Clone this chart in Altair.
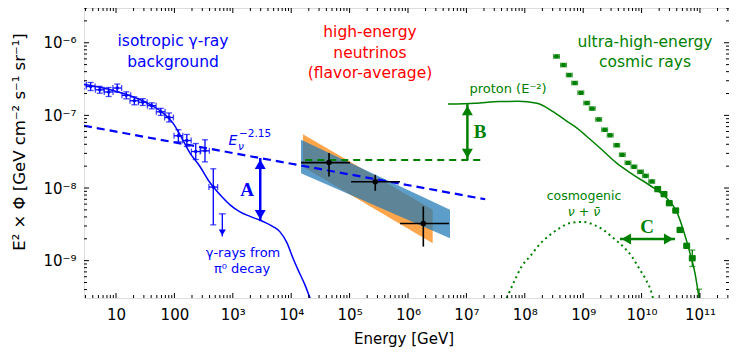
import altair as alt
import pandas as pd

# ---------------- data ----------------
# Fermi isotropic gamma-ray background: energy [GeV], E^2*Phi and its error band
igrb_E = [2.62, 3.68, 5.26, 7.48, 10.5, 15.0, 20.6, 28.7, 40.9, 58.3, 80.9, 117, 163, 232, 334, 463]
igrb_F = [2.64e-7, 2.50e-7, 2.25e-7, 2.10e-7, 2.38e-7, 1.89e-7, 1.59e-7, 1.52e-7, 1.36e-7,
          1.12e-7, 9.36e-8, 5.24e-8, 4.51e-8, 3.18e-8, 3.25e-8, 1.03e-8]
igrb_lo = [2.32e-7, 2.20e-7, 2.02e-7, 1.82e-7, 2.09e-7, 1.69e-7, 1.40e-7, 1.37e-7, 1.23e-7,
           1.00e-7, 8.12e-8, 4.33e-8, 3.73e-8, 2.47e-8, 2.29e-8, 3.11e-9]
igrb_hi = [3.00e-7, 2.84e-7, 2.51e-7, 2.42e-7, 2.70e-7, 2.11e-7, 1.80e-7, 1.70e-7, 1.49e-7,
           1.25e-7, 1.08e-7, 6.34e-8, 5.46e-8, 4.10e-8, 4.61e-8, 1.84e-8]
IGRB_HALF_BIN_DEX = 0.075
igrb_ul_E = [661]
igrb_ul_F = [4.41e-9]
igrb_ul_tip = [2.15e-9]

# gamma-ray model curve (pi0 decay)
gam_E = [2.83, 8.89, 17.4, 34.0, 63.8, 94.6, 125, 185, 274, 376, 464, 653, 895, 1328, 1971,
         3289, 4880, 6430, 8470, 1.07e4, 1.31e4, 1.72e4, 2.10e4]
gam_F = [2.68e-7, 2.20e-7, 1.86e-7, 1.48e-7, 1.08e-7, 7.84e-8, 5.41e-8, 3.03e-8, 1.98e-8,
         1.30e-8, 1.03e-8, 7.56e-9, 5.87e-9, 4.70e-9, 4.07e-9, 3.46e-9, 2.95e-9, 2.49e-9,
         1.76e-9, 1.09e-9, 7.47e-10, 4.64e-10, 3.04e-10]

# E^-2.15 neutrino extrapolation
pl_E = [2.83, 2.1e7]
pl_F = [7.2e-8, 7.0e-9]

# high-energy neutrino bands (orange / blue)
orange_E = [1.59e4, 2.65e6]
orange_lo = [1.96e-8, 1.74e-9]
orange_hi = [5.52e-8, 5.01e-9]
blue_E = [1.47e4, 5.24e6]
blue_lo = [1.60e-8, 2.04e-9]
blue_hi = [4.61e-8, 5.01e-9]

# neutrino data points
nu_E = [4.44e4, 2.75e5, 1.83e6]
nu_F = [2.24e-8, 1.22e-8, 3.24e-9]
nu_Elo = [1.47e4, 1.06e5, 7.3e5]
nu_Ehi = [1.02e5, 7.3e5, 5.04e6]
nu_Flo = [1.44e-8, 9.15e-9, 1.56e-9]
nu_Fhi = [3.03e-8, 1.52e-8, 5.56e-9]

# green dashed level
gd_E = [1.74e4, 1.93e7]
gd_F = [2.44e-8, 2.44e-8]

# proton (E^-2) curve
pr_E = [4.84e6, 1.40e7, 3.76e7, 7.65e7, 1.62e8, 3.04e8, 5.28e8, 7.84e8, 1.31e9, 1.94e9,
        3.75e9, 7.21e9, 1.59e10, 2.69e10, 3.99e10, 5.18e10, 6.74e10, 8.21e10, 9.35e10, 9.62e10]
pr_F = [1.43e-7, 1.47e-7, 1.55e-7, 1.56e-7, 1.47e-7, 1.13e-7, 8.30e-8, 6.69e-8, 4.69e-8,
        3.55e-8, 2.20e-8, 1.52e-8, 1.01e-8, 7.26e-9, 4.74e-9, 2.65e-9, 1.27e-9, 6.73e-10,
        3.57e-10, 3.08e-10]

# UHECR data
cr_E = [3.49e8, 4.60e8, 5.78e8, 7.14e8, 9.10e8, 1.15e9, 1.43e9, 1.84e9, 2.33e9, 2.90e9,
        3.75e9, 4.68e9, 5.85e9, 7.41e9, 9.57e9, 1.17e10, 1.49e10, 1.89e10, 2.42e10, 2.98e10,
        3.84e10, 4.55e10, 5.92e10, 7.38e10]
cr_F = [6.48e-7, 4.93e-7, 3.59e-7, 2.79e-7, 2.05e-7, 1.48e-7, 1.24e-7, 8.79e-8, 6.34e-8,
        5.32e-8, 3.88e-8, 2.87e-8, 2.22e-8, 1.96e-8, 1.67e-8, 1.47e-8, 1.23e-8, 9.66e-9,
        8.24e-9, 6.19e-9, 4.90e-9, 2.65e-9, 1.60e-9, 1.08e-9]
cr_big = [False] * 17 + [True] * 7
CR_HALF_BIN_DEX = 0.05
cr_err_E = [7.38e10]
cr_err_lo = [8.3e-10]
cr_err_hi = [1.40e-9]
cr_last_E = [9.62e10]
cr_last_hi = [4.05e-10]
cr_last_lo = [2.0e-10]

# cosmogenic neutrinos
cg_E = [4.90e7, 6.79e7, 8.95e7, 1.23e8, 1.82e8, 2.70e8, 4.01e8, 5.94e8, 1.00e9, 1.59e9,
        2.21e9, 3.24e9, 4.86e9, 6.85e9, 9.40e9, 1.19e10, 1.49e10, 1.57e10]
cg_F = [3.04e-10, 5.44e-10, 8.48e-10, 1.14e-9, 1.70e-9, 2.26e-9, 2.83e-9, 3.29e-9, 3.42e-9,
        3.06e-9, 2.65e-9, 2.06e-9, 1.56e-9, 1.13e-9, 7.46e-10, 5.44e-10, 3.56e-10, 3.04e-10]

# annotation arrows
arrA_E, arrA_top, arrA_bot = [2950], [2.59e-8], [3.5e-9]
arrB_E, arrB_top, arrB_bot = [1.04e7], [1.43e-7], [2.44e-8]
arrC_F, arrC_left, arrC_right = [1.98e-9], [4.27e9], [3.73e10]

# ---------------- chart setup ----------------
W, H = 645, 290
X_DOMAIN = [2.83, 3.14e11]
Y_DOMAIN = [3.06e-10, 3.01e-6]
FONT = "DejaVu Sans"
BLUE, RED, GREEN = "#0000ff", "#ff0000", "#008000"

x_major = [10.0 ** d for d in range(1, 12)]
y_major = [1e-9, 1e-8, 1e-7, 1e-6]
x_minor = [k * 10.0 ** d for d in range(0, 12) for k in range(2, 10)
           if X_DOMAIN[0] <= k * 10.0 ** d <= X_DOMAIN[1]]
y_minor = [k * 10.0 ** d for d in range(-10, -5) for k in range(2, 10)
           if Y_DOMAIN[0] <= k * 10.0 ** d <= Y_DOMAIN[1]]

xs = alt.Scale(type="log", domain=X_DOMAIN, nice=False)
ys = alt.Scale(type="log", domain=Y_DOMAIN, nice=False)
x_lab = "['','10','100','10³','10⁴','10⁵','10⁶','10⁷','10⁸','10⁹','10¹⁰','10¹¹'][round(log(datum.value)/LN10)]"
y_lab = "['','','','','','','10⁻⁶','10⁻⁷','10⁻⁸','10⁻⁹','10⁻¹⁰'][-round(log(datum.value)/LN10)]"
xax = alt.Axis(values=x_major, labelExpr=x_lab, title=None, ticks=False, tickSize=0,
               domain=False, grid=False, labelFont=FONT, labelFontSize=15, labelPadding=9,
               labelColor="black", labelFlush=False, labelOverlap=False)
yax = alt.Axis(values=y_major, labelExpr=y_lab, title=None, ticks=False, tickSize=0,
               domain=False, grid=False, labelFont=FONT, labelFontSize=15, labelPadding=8,
               labelColor="black", labelFlush=False, labelOverlap=False)


def X(f):
    return alt.X(f, type="quantitative", scale=xs, axis=xax)


def Y(f):
    return alt.Y(f, type="quantitative", scale=ys, axis=yax)


def df(**cols):
    return pd.DataFrame(cols)


layers = []

# neutrino bands
layers.append(alt.Chart(df(E=orange_E, lo=orange_lo, hi=orange_hi)).mark_area(
    color="#ff8c1a", opacity=0.78, clip=True).encode(x=X("E"), y=Y("lo"), y2="hi"))
layers.append(alt.Chart(df(E=blue_E, lo=blue_lo, hi=blue_hi)).mark_area(
    color="#1f77b4", opacity=0.72, clip=True).encode(x=X("E"), y=Y("lo"), y2="hi"))

# lines
layers.append(alt.Chart(df(E=pl_E, F=pl_F)).mark_line(
    color=BLUE, strokeWidth=2.2, strokeDash=[8, 5], clip=True).encode(x=X("E"), y=Y("F")))
layers.append(alt.Chart(df(E=gd_E, F=gd_F)).mark_line(
    color=GREEN, strokeWidth=2, strokeDash=[7, 5], clip=True).encode(x=X("E"), y=Y("F")))
layers.append(alt.Chart(df(E=gam_E, F=gam_F)).mark_line(
    color=BLUE, strokeWidth=1.5, interpolate="monotone", clip=True).encode(x=X("E"), y=Y("F")))
layers.append(alt.Chart(df(E=pr_E, F=pr_F)).mark_line(
    color=GREEN, strokeWidth=1.5, interpolate="monotone", clip=True).encode(x=X("E"), y=Y("F")))
layers.append(alt.Chart(df(E=cg_E, F=cg_F)).mark_line(
    color=GREEN, strokeWidth=2, strokeDash=[2, 3.5], interpolate="monotone", clip=True
).encode(x=X("E"), y=Y("F")))

# IGRB points with error bars
igrb = df(E=igrb_E, F=igrb_F, lo=igrb_lo, hi=igrb_hi)
igrb["Elo"] = igrb["E"] / 10 ** IGRB_HALF_BIN_DEX
igrb["Ehi"] = igrb["E"] * 10 ** IGRB_HALF_BIN_DEX
base = alt.Chart(igrb)
layers.append(base.mark_rule(color=BLUE, strokeWidth=1.3, clip=True).encode(
    x=X("E"), y=Y("lo"), y2="hi"))
layers.append(base.mark_rule(color=BLUE, strokeWidth=1.3, clip=True).encode(
    x=X("Elo"), x2="Ehi", y=Y("F")))
for col in ["lo", "hi"]:
    layers.append(base.mark_tick(color=BLUE, orient="horizontal", size=6, thickness=1.3,
                                 clip=True).encode(x=X("E"), y=Y(col)))
for col in ["Elo", "Ehi"]:
    layers.append(base.mark_tick(color=BLUE, orient="vertical", size=6, thickness=1.3,
                                 clip=True).encode(x=X(col), y=Y("F")))
layers.append(base.mark_circle(color=BLUE, size=12, opacity=1, clip=True).encode(
    x=X("E"), y=Y("F")))

# IGRB upper limit
ul = alt.Chart(df(E=igrb_ul_E, F=igrb_ul_F, tip=igrb_ul_tip))
layers.append(ul.mark_rule(color=BLUE, strokeWidth=1.3).encode(x=X("E"), y=Y("F"), y2="tip"))
layers.append(ul.mark_tick(color=BLUE, orient="horizontal", size=7, thickness=1.3).encode(
    x=X("E"), y=Y("F")))
layers.append(ul.mark_point(shape="triangle-down", filled=True, size=50, color=BLUE,
                            opacity=1, yOffset=-4).encode(x=X("E"), y=Y("tip")))

# neutrino points
nu = alt.Chart(df(E=nu_E, F=nu_F, Elo=nu_Elo, Ehi=nu_Ehi, Flo=nu_Flo, Fhi=nu_Fhi))
layers.append(nu.mark_rule(color="black", strokeWidth=1.6).encode(x=X("E"), y=Y("Flo"), y2="Fhi"))
layers.append(nu.mark_rule(color="black", strokeWidth=1.6).encode(x=X("Elo"), x2="Ehi", y=Y("F")))
layers.append(nu.mark_circle(color="black", size=30, opacity=1).encode(x=X("E"), y=Y("F")))

# UHECR points
cr = df(E=cr_E, F=cr_F, big=cr_big)
cr["Elo"] = cr["E"] / 10 ** CR_HALF_BIN_DEX
cr["Ehi"] = cr["E"] * 10 ** CR_HALF_BIN_DEX
crb = alt.Chart(cr)
layers.append(crb.mark_rule(color=GREEN, strokeWidth=1.2, clip=True).encode(
    x=X("Elo"), x2="Ehi", y=Y("F")))
for col in ["Elo", "Ehi"]:
    layers.append(crb.mark_tick(color=GREEN, orient="vertical", size=5, thickness=1.2,
                                clip=True).encode(x=X(col), y=Y("F")))
layers.append(crb.transform_filter("!datum.big").mark_square(
    color=GREEN, size=20, opacity=1, clip=True).encode(x=X("E"), y=Y("F")))
layers.append(crb.transform_filter("datum.big").mark_square(
    color=GREEN, size=40, opacity=1, cornerRadius=2, clip=True).encode(x=X("E"), y=Y("F")))
cre = alt.Chart(df(E=cr_err_E + cr_last_E, lo=cr_err_lo + cr_last_lo, hi=cr_err_hi + cr_last_hi))
layers.append(cre.mark_rule(color=GREEN, strokeWidth=1.3, clip=True).encode(
    x=X("E"), y=Y("lo"), y2="hi"))
for col in ["lo", "hi"]:
    layers.append(cre.mark_tick(color=GREEN, orient="horizontal", size=6, thickness=1.3,
                                clip=True).encode(x=X("E"), y=Y(col)))

# annotation arrows
for (E, top, bot, col) in [(arrA_E, arrA_top, arrA_bot, BLUE), (arrB_E, arrB_top, arrB_bot, GREEN)]:
    a = alt.Chart(df(E=E, top=top, bot=bot))
    layers.append(a.mark_rule(color=col, strokeWidth=2.5).encode(x=X("E"), y=Y("top"), y2="bot"))
    layers.append(a.mark_point(shape="triangle-up", filled=True, size=120, color=col, opacity=1,
                               strokeWidth=0, yOffset=6.3).encode(x=X("E"), y=Y("top")))
    layers.append(a.mark_point(shape="triangle-down", filled=True, size=120, color=col, opacity=1,
                               strokeWidth=0, yOffset=-6.3).encode(x=X("E"), y=Y("bot")))
c = alt.Chart(df(F=arrC_F, l=arrC_left, r=arrC_right))
layers.append(c.mark_rule(color=GREEN, strokeWidth=2.5).encode(x=X("l"), x2="r", y=Y("F")))
layers.append(c.mark_point(shape="triangle-left", filled=True, size=120, color=GREEN, opacity=1,
                           strokeWidth=0, xOffset=6.3).encode(x=X("l"), y=Y("F")))
layers.append(c.mark_point(shape="triangle-right", filled=True, size=120, color=GREEN, opacity=1,
                           strokeWidth=0, xOffset=-6.3).encode(x=X("r"), y=Y("F")))

# frame ticks (inward, on all four sides)
for vals, ln in [(x_major, 5), (x_minor, 3)]:
    t = alt.Chart(df(v=vals))
    layers.append(t.mark_rule(color="black", strokeWidth=1).encode(
        x=X("v"), y=alt.value(H), y2=alt.value(H - ln)))
    layers.append(t.mark_rule(color="black", strokeWidth=1).encode(
        x=X("v"), y=alt.value(0), y2=alt.value(ln)))
for vals, ln in [(y_major, 5), (y_minor, 3)]:
    t = alt.Chart(df(v=vals))
    layers.append(t.mark_rule(color="black", strokeWidth=1).encode(
        y=Y("v"), x=alt.value(0), x2=alt.value(ln)))
    layers.append(t.mark_rule(color="black", strokeWidth=1).encode(
        y=Y("v"), x=alt.value(W), x2=alt.value(W - ln)))

# texts
dummy = df(a=[0])


def txt(s, x, y, color="black", size=15, font=FONT, weight="normal", style="normal",
        align="center", angle=0, baseline="middle"):
    return alt.Chart(dummy).mark_text(
        text=s, font=font, fontSize=size, fontWeight=weight, fontStyle=style,
        color=color, align=align, baseline=baseline, angle=angle
    ).encode(x=alt.value(x), y=alt.value(y))


layers += [
    txt("isotropic γ-ray", 89, 33, BLUE, 15.5),
    txt("background", 89, 54, BLUE, 15.5),
    txt("high-energy", 286, 24, RED, 15.5),
    txt("neutrinos", 286, 45, RED, 15.5),
    txt("(flavor-average)", 286, 65, RED, 15.5),
    txt("ultra-high-energy", 561, 34, GREEN, 15.5),
    txt("cosmic rays", 561, 54, GREEN, 15.5),
    txt("proton (E⁻²)", 424, 81, GREEN, 13),
    txt("cosmogenic", 500, 188, GREEN, 12.5),
    txt("ν + ν̄", 500, 204, GREEN, 12.5, style="italic"),
    txt("γ-rays from", 159, 245, BLUE, 13),
    txt("π⁰ decay", 158, 261, BLUE, 13),
    txt("E", 149, 133, BLUE, 14, style="italic"),
    txt("ν", 154, 139, BLUE, 10.5, style="italic", align="left"),
    txt("−2.15", 155, 126, BLUE, 10.5, align="left"),
    txt("A", 163, 182, BLUE, 19, font="Liberation Serif", weight="bold"),
    txt("B", 396, 124, GREEN, 19, font="Liberation Serif", weight="bold"),
    txt("C", 563, 219, GREEN, 19, font="Liberation Serif", weight="bold"),
    txt("Energy [GeV]", 320, 335.5, "black", 15, baseline="alphabetic"),
    txt("E² × Φ [GeV cm⁻² s⁻¹ sr⁻¹]", -64, 134, "black", 16.5, angle=270),
]

chart = alt.layer(*layers).properties(
    width=W, height=H,
    autosize=alt.AutoSizeParams(type="none"),
    padding={"left": 76, "top": 0, "right": 0, "bottom": 50},
).configure_view(stroke="black", strokeWidth=1.3).configure(background="white")

chart.save("out.html", embed_options={"renderer": "svg", "actions": False})
